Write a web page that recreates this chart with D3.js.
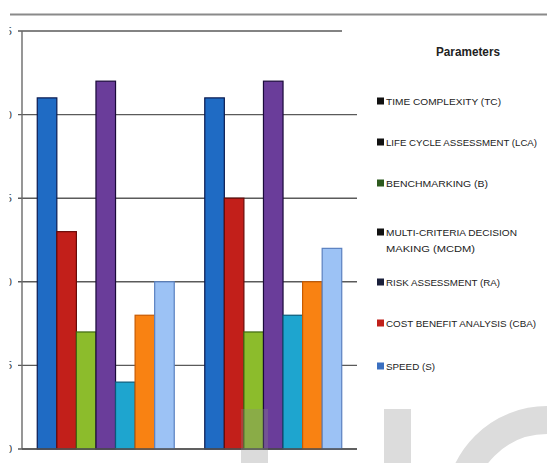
<!DOCTYPE html>
<html><head><meta charset="utf-8">
<script src="https://cdn.jsdelivr.net/npm/d3@7"></script>
<style>html,body{margin:0;padding:0;background:#fff;overflow:hidden}</style>
</head><body>
<svg id="c" width="547" height="463"></svg>
<script>
const groups = ["Group 1", "Group 2"];
const seriesNames = ["TIME COMPLEXITY (TC)", "LIFE CYCLE ASSESSMENT (LCA)", "BENCHMARKING (B)", "MULTI-CRITERIA DECISION MAKING (MCDM)", "RISK ASSESSMENT (RA)", "COST BENEFIT ANALYSIS (CBA)", "SPEED (S)"];
const group1Values = [21, 13, 7, 22, 4, 8, 10];
const group2Values = [21, 15, 7, 22, 8, 10, 12];
const yTicks = [0, 5, 10, 15, 20, 25];
const barColors = ["#1f6bc4", "#c21f1a", "#8cbc2c", "#6a3d9a", "#1ea5cf", "#f98212", "#9cc2f5"];
const barStrokes = ["#0a1a50", "#6a0a08", "#3f6a12", "#1a0a3a", "#0a5a7a", "#c85a00", "#5a80c0"];
const legendMarkers = ["#111", "#111", "#2d5a1e", "#111", "#1a1f3a", "#c0201a", "#3a6fc0"];

const values = [group1Values, group2Values];
const svg = d3.select("#c");
const plotLeft = 22, plotRight = 357, plotTop = 31, plotBottom = 449;

const x0 = d3.scaleBand().domain(groups).range([plotLeft, plotRight]).padding(0);
const x1 = d3.scaleBand().domain(d3.range(seriesNames.length)).range([0, x0.bandwidth()]).paddingInner(0).paddingOuter(0.78);
const y = d3.scaleLinear().domain([0, 25]).range([plotBottom, plotTop]);

// top separator line
svg.append("line").attr("x1", 10).attr("x2", 547).attr("y1", 14.5).attr("y2", 14.5)
  .attr("stroke", "#8a8a8a").attr("stroke-width", 2);

// gridlines
svg.append("g").selectAll("line").data(yTicks).join("line")
  .attr("x1", plotLeft - 4).attr("x2", d => d === 25 ? 342 : plotRight)
  .attr("y1", d => y(d)).attr("y2", d => y(d))
  .attr("stroke", "#5a5a5a").attr("stroke-width", 1.4);

// y axis line
svg.append("line").attr("x1", plotLeft).attr("x2", plotLeft).attr("y1", plotTop).attr("y2", plotBottom)
  .attr("stroke", "#6a6a6a").attr("stroke-width", 1.4);

// clipped tick labels (only sliver visible, as in reference)
svg.append("clipPath").attr("id", "tickclip").append("rect")
  .attr("x", 9.5).attr("y", 0).attr("width", 3).attr("height", 463);
svg.append("g").attr("clip-path", "url(#tickclip)").selectAll("text").data(yTicks).join("text")
  .attr("x", 12).attr("y", d => y(d) + 4).attr("text-anchor", "end")
  .attr("font-family", "Liberation Sans, sans-serif").attr("font-size", 11).attr("fill", "#333")
  .text(d => d);

// bars
const gg = svg.append("g").selectAll("g").data(groups).join("g")
  .attr("transform", d => `translate(${x0(d)},0)`);
gg.selectAll("rect").data((g, gi) => values[gi].map((v, i) => ({v, i}))).join("rect")
  .attr("x", d => x1(d.i)).attr("width", x1.bandwidth())
  .attr("y", d => y(d.v)).attr("height", d => y(0) - y(d.v))
  .attr("fill", d => barColors[d.i])
  .attr("stroke", d => barStrokes[d.i]).attr("stroke-width", 1.2);

// baseline
svg.append("line").attr("x1", plotLeft).attr("x2", plotRight).attr("y1", plotBottom).attr("y2", plotBottom)
  .attr("stroke", "#555").attr("stroke-width", 1.4);

// watermark shapes
svg.append("rect").attr("x", 241).attr("y", 409).attr("width", 27).attr("height", 60)
  .attr("fill", "#888").attr("opacity", 0.3);
svg.append("rect").attr("x", 384).attr("y", 409).attr("width", 27).attr("height", 60)
  .attr("fill", "#dcdcdc");
svg.append("circle").attr("cx", 547).attr("cy", 508).attr("r", 88)
  .attr("fill", "none").attr("stroke", "#dcdcdc").attr("stroke-width", 28);

// legend
const font = "'Liberation Sans', 'Open Sans', sans-serif";
svg.append("text").attr("x", 436).attr("y", 56)
  .attr("font-family", font).attr("font-weight", "bold").attr("font-size", 12).attr("fill", "#222")
  .attr("textLength", 64).attr("lengthAdjust", "spacingAndGlyphs")
  .text("Parameters");

const legendY = [101, 142, 183, 232, 282, 323, 366];
const legendLines = [["TIME COMPLEXITY (TC)"], ["LIFE CYCLE ASSESSMENT (LCA)"], ["BENCHMARKING (B)"],
  ["MULTI-CRITERIA DECISION", "MAKING (MCDM)"], ["RISK ASSESSMENT (RA)"], ["COST BENEFIT ANALYSIS (CBA)"], ["SPEED (S)"]];
const legendWidths = [[115], [151], [102], [131, 89], [114], [150], [49]];
const lg = svg.append("g").selectAll("g").data(seriesNames).join("g");
lg.append("rect").attr("x", 377).attr("y", (d, i) => legendY[i] - 3.5).attr("width", 7).attr("height", 7)
  .attr("fill", (d, i) => legendMarkers[i]);
lg.each(function(d, i) {
  legendLines[i].forEach((line, li) => {
    d3.select(this).append("text").attr("font-family", font).attr("font-size", 9.5).attr("fill", "#222")
      .attr("x", 386).attr("y", legendY[i] + 4 + li * 16)
      .attr("textLength", legendWidths[i][li]).attr("lengthAdjust", "spacingAndGlyphs")
      .text(line);
  });
});
</script>
</body></html>
